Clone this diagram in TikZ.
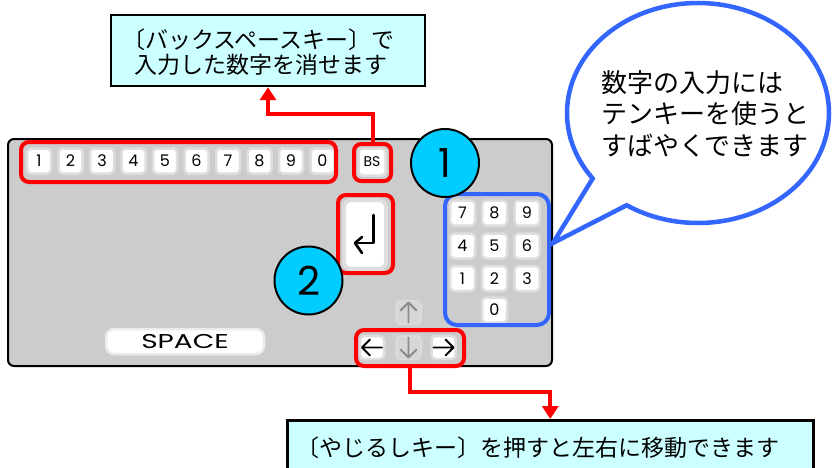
\documentclass[tikz,border=0pt]{standalone}
\usepackage{fontspec}
\newfontfamily\jp{Noto Sans CJK JP}
\newfontfamily\lat{Poppins}
\usetikzlibrary{arrows.meta,calc}
\definecolor{rd}{HTML}{FF0000}
\definecolor{bl}{HTML}{3366FF}
\definecolor{panelgray}{HTML}{CCCCCC}
\definecolor{keyring}{HTML}{DEDEDE}
\definecolor{cyanfill}{HTML}{00CCFF}
\definecolor{boxfill}{HTML}{CCFFFF}
\definecolor{dimkey}{HTML}{D6D6D6}
\definecolor{dimarrow}{HTML}{8C8C8C}
\begin{document}
\begin{tikzpicture}[x=1pt,y=-1pt,
  keybox/.style={draw=keyring, line width=2.5pt, fill=white, rounded corners=4pt,
    minimum width=24pt, minimum height=25pt, inner sep=0pt,
    font=\lat\fontsize{16}{16}\selectfont},
  dimkeybox/.style={keybox, fill=dimkey, draw=dimkey!90!white},
  redframe/.style={draw=rd, line width=4pt, rounded corners=8pt},
  redarrow/.style={draw=rd, line width=4pt, -{Triangle[length=13pt,width=16pt]}},
  numcircle/.style={circle, draw=black, line width=2pt, fill=cyanfill,
    minimum size=68pt, inner sep=0pt, font=\lat\fontsize{40}{40}\selectfont},
  notebox/.style={draw=black, line width=2.5pt, fill=boxfill, inner sep=0pt},
  jptext/.style={inner sep=0pt, font=\jp\fontsize{23}{25}\selectfont},
  arrowglyph/.style={line width=1.8pt, line cap=round, line join=round}
]
\useasboundingbox (0,0) rectangle (832,468);
\clip (0,0) rectangle (832,468);

% top note
\node[notebox, minimum width=314pt, minimum height=71pt] (topbox) at (268,50.5) {};
\node[jptext, anchor=west, align=left] (toptext) at (122,52.5)
  {〔バックスペースキー〕で\\\rule{12pt}{0pt}入力した数字を消せます};

% keyboard panel
\node[draw=black, line width=2pt, fill=panelgray, rounded corners=6pt,
  minimum width=544pt, minimum height=227pt, inner sep=0pt] (panel) at (280,252.5) {};

% digit row
\foreach \d [count=\i from 0] in {1,2,3,4,5,6,7,8,9,0}
  \node[keybox] (k\d) at (39+31.5*\i,161) {\d};
\node[keybox, minimum width=27pt, minimum height=27pt, font=\lat\fontsize{14}{14}\selectfont] (bs) at (372,162) {BS};

% enter key
\node[keybox, line width=4pt, rounded corners=7pt, minimum width=42pt, minimum height=69pt] (enter) at (365,234.5) {};
\begin{scope}[shift={(enter.center)}]
  \draw[line width=2.6pt, line cap=round, line join=round]
    (8.5,-19.5) -- (8.5,8.5) -- (-10,8.5);
  \draw[line width=2.6pt, line cap=round, line join=round]
    (-3,2.5) -- (-10,8.5) -- (-3,18.5);
\end{scope}

% numpad
\foreach \d/\x/\y in {7/462.5/213, 8/494.5/213, 9/527/213,
                      4/462.5/246, 5/494.5/246, 6/527/246,
                      1/462.5/278.5, 2/494.5/278.5, 3/527/278.5,
                      0/494.5/310}
  \node[keybox, minimum width=25pt, minimum height=25pt] (n\d) at (\x,\y) {\d};

% space key
\node[keybox, draw=keyring!60!white, rounded corners=8pt, minimum width=158pt, minimum height=25pt,
  font=\lat\fontsize{20}{20}\selectfont] (space) at (185,341.5) {\scalebox{1.4}[1]{SPACE}};

% arrow keys
\node[dimkeybox, minimum width=24pt, minimum height=23pt] (up) at (408.5,312.5) {};
\node[dimkeybox, minimum width=24pt, minimum height=23pt] (down) at (408.5,347.5) {};
\node[keybox, minimum width=24pt, minimum height=23pt] (left) at (372,347.5) {};
\node[keybox, minimum width=24pt, minimum height=23pt] (right) at (443.5,347.5) {};
\begin{scope}[shift={(left.center)}]
  \draw[arrowglyph] (10,0) -- (-10,0) (-2,-8) -- (-10,0) -- (-2,8);
\end{scope}
\begin{scope}[shift={(right.center)}]
  \draw[arrowglyph] (-10,0) -- (10,0) (2,-8) -- (10,0) -- (2,8);
\end{scope}
\begin{scope}[shift={(up.center)}]
  \draw[arrowglyph, draw=dimarrow] (0,10) -- (0,-10) (-8,-2) -- (0,-10) -- (8,-2);
\end{scope}
\begin{scope}[shift={(down.center)}]
  \draw[arrowglyph, draw=dimarrow] (0,-10) -- (0,10) (-8,2) -- (0,10) -- (8,2);
\end{scope}

% red frames
\node[redframe, minimum width=315pt, minimum height=40pt, inner sep=0pt] (digitsframe) at (178.5,162) {};
\node[redframe, rounded corners=7pt, minimum width=37pt, minimum height=37pt, inner sep=0pt] (bsframe) at (372.5,162.5) {};
\node[redframe, minimum width=55pt, minimum height=78pt, inner sep=0pt] (enterframe) at (365.5,234) {};
\node[redframe, minimum width=108pt, minimum height=36pt, inner sep=0pt] (arrowframe) at (410,348) {};

% blue frame
\node[draw=bl, line width=4pt, rounded corners=12pt, minimum width=104pt, minimum height=131pt, inner sep=0pt] (padframe) at (497,259.5) {};

% numbered circles
\node[numcircle] (c1) at (445,163) {1};
\node[numcircle] (c2) at (308.5,280.5) {2};

% red connector arrows
\draw[redarrow] (bsframe.north) -- (bsframe.north |- 0,114.5) -| (topbox.south);

% bottom note
\node[notebox, anchor=north west, minimum width=526pt, minimum height=70pt] (botbox) at (286,419) {};
\draw[redarrow] (arrowframe.south) -- (arrowframe.south |- 0,392) -| (botbox.north);
\node[jptext, anchor=west] (bottext) at (296,448)
  {〔やじるしキー〕を押すと左右に移動できます};

% speech bubble
\coordinate (bc) at (698,113);
\coordinate (tip) at (553,243);
\draw[draw=bl, line width=4.5pt, fill=white, line join=miter]
  (tip) -- ($(bc)+(143.5:131 and 110)$) arc[start angle=143.5, end angle=483, x radius=131, y radius=110] -- cycle;
\node[inner sep=0pt, anchor=west, align=left, font=\jp\fontsize{26}{31.5}\selectfont] (bubbletext) at (601,113.5)
  {数字の入力には\\テンキーを使うと\\すばやくできます};
\end{tikzpicture}
\end{document}
